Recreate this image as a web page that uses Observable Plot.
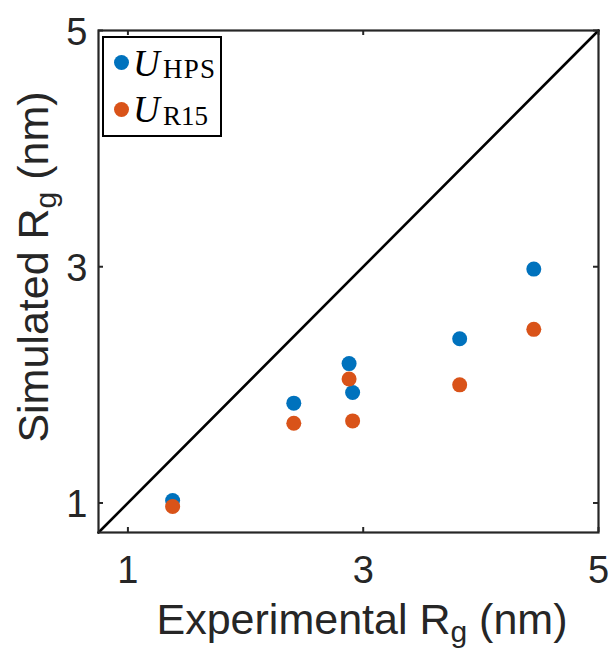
<!DOCTYPE html>
<html>
<head>
<meta charset="utf-8">
<script src="https://cdn.jsdelivr.net/npm/d3@7"></script>
<script src="https://cdn.jsdelivr.net/npm/@observablehq/plot@0.6"></script>
<style>
  body { margin: 0; background: #fff; }
  #chart { width: 616px; height: 654px; }
</style>
</head>
<body>
<div id="chart"></div>
<script>
// ---- data ----
const experimentalRg = [1.38, 2.41, 2.88, 2.91, 3.82, 4.45];
const simulatedHPS   = [1.02, 1.845, 2.18, 1.935, 2.39, 2.98];
const simulatedR15   = [0.97, 1.675, 2.05, 1.695, 2.00, 2.47];
const xTicks = [1, 3, 5];
const yTicks = [1, 3, 5];
const axisDomain = [0.75, 5];
const identityLine = [0.75, 5];
const seriesNames = ["HPS", "R15"];
const seriesColors = ["#0072BD", "#D95319"];

const hpsData = experimentalRg.map((x, i) => ({x, y: simulatedHPS[i]}));
const r15Data = experimentalRg.map((x, i) => ({x, y: simulatedR15[i]}));

const W = 616, H = 654;
const mL = 98, mR = 18, mT = 30, mB = 122;
const innerW = W - mL - mR, innerH = H - mT - mB;
const tickLen = 5;
const ink = "#262626";
const sans = "'Liberation Sans', Arial, Helvetica, sans-serif";
const serif = "'Liberation Serif', 'Times New Roman', serif";

const chart = Plot.plot({
  width: W,
  height: H,
  marginLeft: mL,
  marginRight: mR,
  marginTop: mT,
  marginBottom: mB,
  style: {fontFamily: sans, fontSize: "38px", color: ink, background: "#fff"},
  x: {domain: axisDomain},
  y: {domain: axisDomain},
  marks: [
    Plot.line(identityLine, {x: d => d, y: d => d, stroke: "#000", strokeWidth: 2.6}),
    Plot.dot(hpsData, {x: "x", y: "y", r: 7.5, fill: seriesColors[0], stroke: "none"}),
    Plot.dot(r15Data, {x: "x", y: "y", r: 7.5, fill: seriesColors[1], stroke: "none"}),
    // inward ticks on all four sides
    Plot.tickX(xTicks, {x: d => d, insetTop: innerH - tickLen, stroke: ink, strokeWidth: 2}),
    Plot.tickX(xTicks, {x: d => d, insetBottom: innerH - tickLen, stroke: ink, strokeWidth: 2}),
    Plot.tickY(yTicks, {y: d => d, insetRight: innerW - tickLen, stroke: ink, strokeWidth: 2}),
    Plot.tickY(yTicks, {y: d => d, insetLeft: innerW - tickLen, stroke: ink, strokeWidth: 2}),
    Plot.frame({stroke: ink, strokeWidth: 2.2}),
    Plot.axisX({ticks: xTicks, tickSize: 0, tickPadding: 24, tickFormat: d => String(d),
      label: null, fontSize: 38, fill: ink}),
    Plot.axisY({ticks: yTicks, tickSize: 0, tickPadding: 11, tickFormat: d => String(d),
      label: null, fontSize: 38, fill: ink, dy: 2})
  ]
});

document.getElementById("chart").appendChild(chart);

const svg = d3.select(chart);

// X axis title with subscript
const xt = svg.append("text")
  .attr("x", 362).attr("y", 634)
  .attr("text-anchor", "middle")
  .attr("fill", ink)
  .style("font-family", sans).style("font-size", "43px");
xt.append("tspan").text("Experimental R");
xt.append("tspan").attr("dy", 8).style("font-size", "30px").text("g");
xt.append("tspan").attr("dy", -8).text(" (nm)");

// Y axis title with subscript
const yt = svg.append("text")
  .attr("transform", "translate(48,267) rotate(-90)")
  .attr("text-anchor", "middle")
  .attr("fill", ink)
  .style("font-family", sans).style("font-size", "43px");
yt.append("tspan").text("Simulated R");
yt.append("tspan").attr("dy", 8).style("font-size", "30px").text("g");
yt.append("tspan").attr("dy", -8).text(" (nm)");

// Legend
const lg = svg.append("g").attr("text-anchor", "start");
lg.append("rect")
  .attr("x", 103).attr("y", 37).attr("width", 118).attr("height", 99)
  .attr("fill", "#fff").attr("stroke", "#000").attr("stroke-width", 2);
const rows = [
  {cy: 62.5, base: 75.5, subBase: 78, subW: 52},
  {cy: 109.5, base: 121.5, subBase: 125, subW: 45}
];
rows.forEach((r, i) => {
  lg.append("circle").attr("cx", 121.5).attr("cy", r.cy).attr("r", 7.5).attr("fill", seriesColors[i]);
  lg.append("text")
    .attr("x", 133).attr("y", r.base)
    .attr("text-anchor", "start")
    .attr("fill", "#000")
    .style("font-family", serif)
    .style("font-style", "italic").style("font-size", "37px")
    .text("U");
  lg.append("text")
    .attr("x", 163).attr("y", r.subBase)
    .attr("text-anchor", "start")
    .attr("fill", "#000")
    .attr("textLength", r.subW).attr("lengthAdjust", "spacing")
    .style("font-family", serif)
    .style("font-size", "27px")
    .text(seriesNames[i]);
});
</script>
</body>
</html>
